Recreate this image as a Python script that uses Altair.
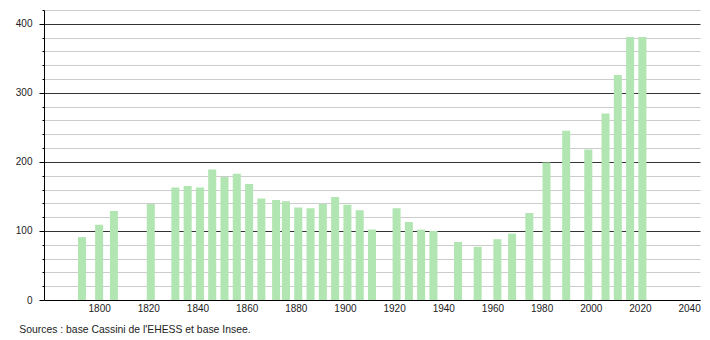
import altair as alt
import pandas as pd

years = [1793, 1800, 1806, 1821, 1831, 1836, 1841, 1846, 1851, 1856, 1861, 1866,
         1872, 1876, 1881, 1886, 1891, 1896, 1901, 1906, 1911, 1921, 1926, 1931,
         1936, 1946, 1954, 1962, 1968, 1975, 1982, 1990, 1999, 2006, 2011, 2016, 2021]
population = [91, 109, 129, 139, 163, 165, 163, 189, 178, 183, 168, 147,
              145, 143, 134, 133, 139, 149, 138, 130, 102, 133, 113, 102,
              100, 84, 77, 88, 96, 126, 199, 245, 218, 270, 326, 381, 381]
x_ticks = [1800, 1820, 1840, 1860, 1880, 1900, 1920, 1940, 1960, 1980, 2000, 2020, 2040]
y_ticks = list(range(0, 421, 20))
source = "Sources : base Cassini de l'EHESS et base Insee."

df = pd.DataFrame({"year": years, "pop": population})

FONT = "Liberation Sans"

bars = alt.Chart(df).mark_bar(color="#b1e5b1", size=8).encode(
    x=alt.X("year:Q",
            scale=alt.Scale(domain=[1779.6, 2042.4], nice=False, zero=False),
            axis=alt.Axis(values=x_ticks, title=None, grid=False, ticks=False,
                          labelFont=FONT, labelFontSize=10, labelColor="#222",
                          labelPadding=3, domainColor="#000", format="d")),
    y=alt.Y("pop:Q",
            scale=alt.Scale(domain=[0, 420], nice=False),
            axis=alt.Axis(values=y_ticks, title=None, grid=True,
                          gridColor={"condition": {"test": "datum.value % 100 === 0", "value": "#333333"},
                                     "value": "#cccccc"},
                          tickSize={"condition": {"test": "datum.value % 100 === 0", "value": 5},
                                    "value": 2},
                          tickColor="#000",
                          labelExpr="datum.value % 100 === 0 ? datum.label : ''",
                          labelFont=FONT, labelFontSize=10, labelColor="#222",
                          labelPadding=7, domainColor="#000")),
)

chart = bars.properties(
    width=656, height=290,
    padding={"left": 44, "top": 10, "right": 10, "bottom": 40},
    autosize=alt.AutoSizeParams(type="none"),
    title=alt.TitleParams(text=source, orient="bottom", anchor="start",
                          font=FONT, fontSize=10.4, fontWeight="normal",
                          color="#222", dx=4, offset=12),
).configure_view(stroke=None).configure_axis(gridWidth=1, domainWidth=1)

chart.save("out.html", embed_options={"renderer": "svg", "actions": False})
